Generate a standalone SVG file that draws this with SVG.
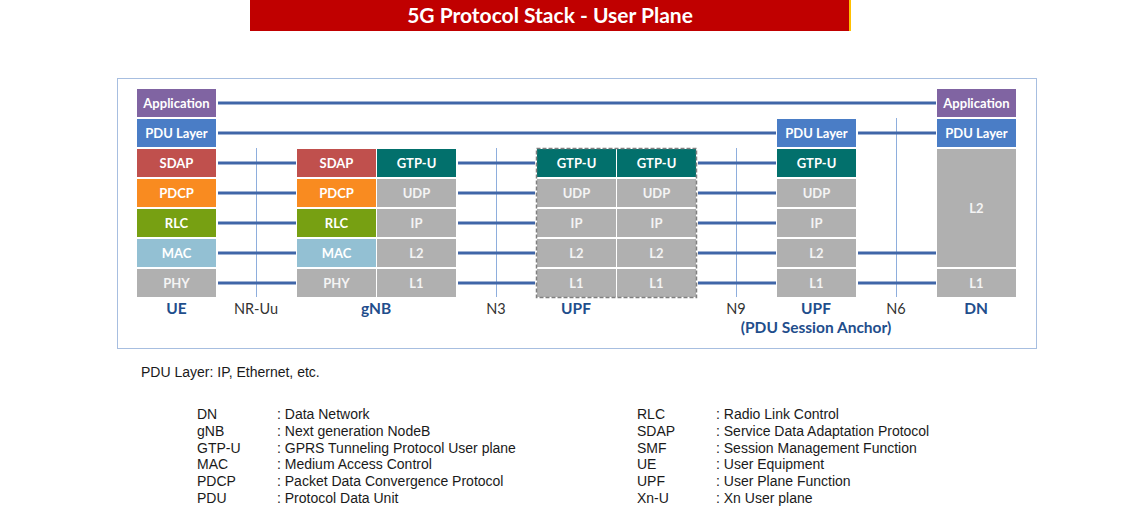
<svg xmlns="http://www.w3.org/2000/svg" width="1137" height="518" viewBox="0 0 1137 518">
<style>
.app{fill:#8064A2}.pdu{fill:#4A7DC6}.sdap{fill:#C0504D}.pdcp{fill:#F98B20}.rlc{fill:#77A012}.mac{fill:#93C0D3}.gry{fill:#B0B0B0}.gtp{fill:#02706C}
.bt{font-family:Lato,"Open Sans",sans-serif;font-weight:bold;font-size:13px;fill:#FFFFFF;text-anchor:middle}
.bt2{font-family:Lato,"Open Sans",sans-serif;font-weight:bold;font-size:13px;fill:#F4F4F4;text-anchor:middle}
.ln{stroke:#4066A8;stroke-width:3;fill:none}
.vl{stroke:#8EAEDD;stroke-width:1;fill:none}
.nl{font-family:Lato,"Open Sans",sans-serif;font-weight:bold;font-size:15.5px;fill:#1F4E8C;text-anchor:middle}
.il{font-family:Lato,"Open Sans",sans-serif;font-size:14.5px;fill:#333333;text-anchor:middle}
.lg{font-family:"Liberation Sans",Arial,sans-serif;font-size:14px;fill:#1a1a1a}
</style>
<g id="title">
<rect x="250" y="0" width="599" height="31" fill="#C00000"/>
<rect x="849" y="0" width="2" height="31" fill="#FFC000"/>
<text x="550" y="22.5" font-family="Lato,'Open Sans',sans-serif" font-weight="bold" font-size="21px" fill="#FFFFFF" text-anchor="middle">5G Protocol Stack - User Plane</text>
</g>
<rect id="frame" x="117.5" y="78.5" width="919" height="270" fill="none" stroke="#A7BEE0" stroke-width="1"/>
<g id="refs">
<line class="vl" x1="256.5" y1="148" x2="256.5" y2="297"/>
<line class="vl" x1="496.5" y1="148" x2="496.5" y2="297"/>
<line class="vl" x1="736.5" y1="148" x2="736.5" y2="297"/>
<line class="vl" x1="896.5" y1="118" x2="896.5" y2="297"/>
</g>
<g id="connectors">
<line class="ln" x1="218" y1="103" x2="936" y2="103"/>
<line class="ln" x1="218" y1="133" x2="776" y2="133"/>
<line class="ln" x1="858" y1="133" x2="936" y2="133"/>
<line class="ln" x1="218" y1="163" x2="296" y2="163"/>
<line class="ln" x1="218" y1="193" x2="296" y2="193"/>
<line class="ln" x1="218" y1="223" x2="296" y2="223"/>
<line class="ln" x1="218" y1="253" x2="296" y2="253"/>
<line class="ln" x1="218" y1="283" x2="296" y2="283"/>
<line class="ln" x1="458" y1="163" x2="535" y2="163"/>
<line class="ln" x1="458" y1="193" x2="535" y2="193"/>
<line class="ln" x1="458" y1="223" x2="535" y2="223"/>
<line class="ln" x1="458" y1="253" x2="535" y2="253"/>
<line class="ln" x1="458" y1="283" x2="535" y2="283"/>
<line class="ln" x1="698" y1="163" x2="776" y2="163"/>
<line class="ln" x1="698" y1="193" x2="776" y2="193"/>
<line class="ln" x1="698" y1="223" x2="776" y2="223"/>
<line class="ln" x1="698" y1="253" x2="776" y2="253"/>
<line class="ln" x1="698" y1="283" x2="776" y2="283"/>
<line class="ln" x1="858" y1="253" x2="936" y2="253"/>
<line class="ln" x1="858" y1="283" x2="936" y2="283"/>
</g>
<g id="ue">
<rect class="app" x="137" y="89" width="79" height="28"/><text class="bt" x="176.5" y="107.5">Application</text>
<rect class="pdu" x="137" y="119" width="79" height="28"/><text class="bt" x="176.5" y="137.5">PDU Layer</text>
<rect class="sdap" x="137" y="149" width="79" height="28"/><text class="bt" x="176.5" y="167.5">SDAP</text>
<rect class="pdcp" x="137" y="179" width="79" height="28"/><text class="bt" x="176.5" y="197.5">PDCP</text>
<rect class="rlc" x="137" y="209" width="79" height="28"/><text class="bt" x="176.5" y="227.5">RLC</text>
<rect class="mac" x="137" y="239" width="79" height="28"/><text class="bt" x="176.5" y="257.5">MAC</text>
<rect class="gry" x="137" y="269" width="79" height="28"/><text class="bt2" x="176.5" y="287.5">PHY</text>
<text class="nl" x="176.5" y="314">UE</text>
</g>
<g id="gnb">
<rect class="sdap" x="297" y="149" width="79" height="28"/><text class="bt" x="336.5" y="167.5">SDAP</text>
<rect class="pdcp" x="297" y="179" width="79" height="28"/><text class="bt" x="336.5" y="197.5">PDCP</text>
<rect class="rlc" x="297" y="209" width="79" height="28"/><text class="bt" x="336.5" y="227.5">RLC</text>
<rect class="mac" x="297" y="239" width="79" height="28"/><text class="bt" x="336.5" y="257.5">MAC</text>
<rect class="gry" x="297" y="269" width="79" height="28"/><text class="bt2" x="336.5" y="287.5">PHY</text>
<rect class="gtp" x="377" y="149" width="79" height="28"/><text class="bt" x="416.5" y="167.5">GTP-U</text>
<rect class="gry" x="377" y="179" width="79" height="28"/><text class="bt2" x="416.5" y="197.5">UDP</text>
<rect class="gry" x="377" y="209" width="79" height="28"/><text class="bt2" x="416.5" y="227.5">IP</text>
<rect class="gry" x="377" y="239" width="79" height="28"/><text class="bt2" x="416.5" y="257.5">L2</text>
<rect class="gry" x="377" y="269" width="79" height="28"/><text class="bt2" x="416.5" y="287.5">L1</text>
<text class="nl" x="376" y="314">gNB</text>
</g>
<g id="upf">
<rect class="gtp" x="537" y="149" width="79" height="28"/><text class="bt" x="576.5" y="167.5">GTP-U</text>
<rect class="gry" x="537" y="179" width="79" height="28"/><text class="bt2" x="576.5" y="197.5">UDP</text>
<rect class="gry" x="537" y="209" width="79" height="28"/><text class="bt2" x="576.5" y="227.5">IP</text>
<rect class="gry" x="537" y="239" width="79" height="28"/><text class="bt2" x="576.5" y="257.5">L2</text>
<rect class="gry" x="537" y="269" width="79" height="28"/><text class="bt2" x="576.5" y="287.5">L1</text>
<rect class="gtp" x="617" y="149" width="79" height="28"/><text class="bt" x="656.5" y="167.5">GTP-U</text>
<rect class="gry" x="617" y="179" width="79" height="28"/><text class="bt2" x="656.5" y="197.5">UDP</text>
<rect class="gry" x="617" y="209" width="79" height="28"/><text class="bt2" x="656.5" y="227.5">IP</text>
<rect class="gry" x="617" y="239" width="79" height="28"/><text class="bt2" x="656.5" y="257.5">L2</text>
<rect class="gry" x="617" y="269" width="79" height="28"/><text class="bt2" x="656.5" y="287.5">L1</text>
<rect x="536.5" y="148.5" width="160" height="149" fill="none" stroke="#7F7F7F" stroke-width="1.5" stroke-dasharray="4 2"/>
<text class="nl" x="576" y="314">UPF</text>
</g>
<g id="upf-anchor">
<rect class="pdu" x="777" y="119" width="79" height="28"/><text class="bt" x="816.5" y="137.5">PDU Layer</text>
<rect class="gtp" x="777" y="149" width="79" height="28"/><text class="bt" x="816.5" y="167.5">GTP-U</text>
<rect class="gry" x="777" y="179" width="79" height="28"/><text class="bt2" x="816.5" y="197.5">UDP</text>
<rect class="gry" x="777" y="209" width="79" height="28"/><text class="bt2" x="816.5" y="227.5">IP</text>
<rect class="gry" x="777" y="239" width="79" height="28"/><text class="bt2" x="816.5" y="257.5">L2</text>
<rect class="gry" x="777" y="269" width="79" height="28"/><text class="bt2" x="816.5" y="287.5">L1</text>
<text class="nl" x="816" y="314">UPF</text>
<text class="nl" x="816" y="333">(PDU Session Anchor)</text>
</g>
<g id="dn">
<rect class="app" x="937" y="89" width="79" height="28"/><text class="bt" x="976.5" y="107.5">Application</text>
<rect class="pdu" x="937" y="119" width="79" height="28"/><text class="bt" x="976.5" y="137.5">PDU Layer</text>
<rect class="gry" x="937" y="149" width="79" height="118"/><text class="bt2" x="976.5" y="212.5">L2</text>
<rect class="gry" x="937" y="269" width="79" height="28"/><text class="bt2" x="976.5" y="287.5">L1</text>
<text class="nl" x="976" y="314">DN</text>
</g>
<g id="interfaces">
<text class="il" x="256" y="313.5">NR-Uu</text>
<text class="il" x="496" y="313.5">N3</text>
<text class="il" x="736" y="313.5">N9</text>
<text class="il" x="896" y="313.5">N6</text>
</g>
<g id="legend">
<text class="lg" x="141" y="377">PDU Layer: IP, Ethernet, etc.</text>
<text class="lg" x="197" y="419.3">DN</text><text class="lg" x="277" y="419.3">: Data Network</text>
<text class="lg" x="197" y="436">gNB</text><text class="lg" x="277" y="436">: Next generation NodeB</text>
<text class="lg" x="197" y="452.7">GTP-U</text><text class="lg" x="277" y="452.7">: GPRS Tunneling Protocol User plane</text>
<text class="lg" x="197" y="469.3">MAC</text><text class="lg" x="277" y="469.3">: Medium Access Control</text>
<text class="lg" x="197" y="486">PDCP</text><text class="lg" x="277" y="486">: Packet Data Convergence Protocol</text>
<text class="lg" x="197" y="502.7">PDU</text><text class="lg" x="277" y="502.7">: Protocol Data Unit</text>
<text class="lg" x="637" y="419.3">RLC</text><text class="lg" x="716" y="419.3">: Radio Link Control</text>
<text class="lg" x="637" y="436">SDAP</text><text class="lg" x="716" y="436">: Service Data Adaptation Protocol</text>
<text class="lg" x="637" y="452.7">SMF</text><text class="lg" x="716" y="452.7">: Session Management Function</text>
<text class="lg" x="637" y="469.3">UE</text><text class="lg" x="716" y="469.3">: User Equipment</text>
<text class="lg" x="637" y="486">UPF</text><text class="lg" x="716" y="486">: User Plane Function</text>
<text class="lg" x="637" y="502.7">Xn-U</text><text class="lg" x="716" y="502.7">: Xn User plane</text>
</g>
</svg>
